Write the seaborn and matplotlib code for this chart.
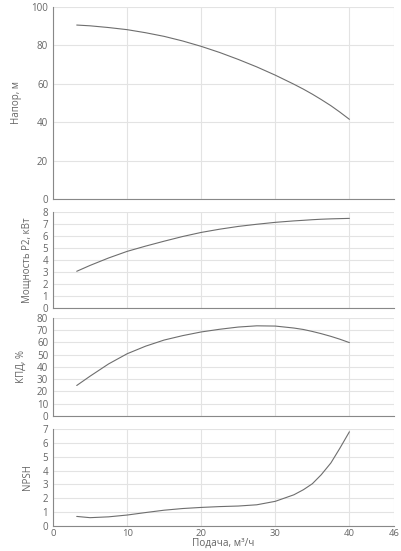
import pandas as pd
import seaborn as sns
import matplotlib.pyplot as plt

sns.set_style("white")
plt.rcParams["font.family"] = ["Open Sans", "DejaVu Sans"]

# flow, m3/h
flow = [3.2, 5, 7.5, 10, 12.5, 15, 17.5, 20, 22.5, 25, 27.5, 30, 32.5, 33.8, 35,
        36.2, 37.5, 38.7, 40]

head = [90.6, 90.2, 89.3, 88.2, 86.6, 84.7, 82.3, 79.5, 76.3, 72.7, 68.8, 64.5,
        59.8, 57.2, 54.6, 51.8, 48.6, 45.3, 41.5]
power = [3.06, 3.55, 4.17, 4.72, 5.16, 5.57, 5.96, 6.3, 6.57, 6.8, 6.98, 7.14,
         7.26, 7.31, 7.36, 7.4, 7.43, 7.45, 7.47]
eff = [24.9, 32.5, 42.5, 50.8, 57.0, 62.0, 65.6, 68.6, 70.8, 72.6, 73.6, 73.4,
       71.8, 70.6, 69.0, 67.2, 65.0, 62.7, 59.9]
npsh = [0.69, 0.6, 0.66, 0.79, 0.97, 1.14, 1.26, 1.34, 1.4, 1.44, 1.53, 1.78,
        2.25, 2.62, 3.05, 3.7, 4.55, 5.6, 6.8]

panels = [
    ("Напор, м", "head", 100, [0, 20, 40, 60, 80, 100], (0.6388, 0.3485)),
    ("Мощность P2, кВт", "power", 8, list(range(0, 9)), (0.4410, 0.1742)),
    ("КПД, %", "eff", 80, list(range(0, 81, 10)), (0.2450, 0.1779)),
    ("NPSH", "npsh", 7, list(range(0, 8)), (0.0454, 0.1760)),
]

df = pd.DataFrame({"flow": flow, "head": head, "power": power, "eff": eff, "npsh": npsh})

fig = plt.figure(figsize=(4.01, 5.51), dpi=100)
grid_c = "#e3e3e3"
spine_c = "#888888"
text_c = "#666666"

for i, (label, col, ymax, yt, (b, h)) in enumerate(panels):
    ax = fig.add_axes([0.1322, b, 0.850, h])
    sns.lineplot(data=df, x="flow", y=col, ax=ax, color="#6e6e6e", linewidth=0.8)
    ax.set_xlim(0, 46)
    ax.set_ylim(0, ymax)
    ax.set_xticks([0, 10, 20, 30, 40, 46])
    ax.set_yticks(yt)
    ax.grid(True, color=grid_c, linewidth=0.8)
    for s in ("top", "right"):
        ax.spines[s].set_visible(False)
    for s in ("left", "bottom"):
        ax.spines[s].set_color(spine_c)
        ax.spines[s].set_linewidth(0.8)
    ax.tick_params(axis="both", colors=spine_c, labelcolor=text_c, labelsize=7,
                   length=3, width=0.8, pad=0.5)
    ax.tick_params(axis="x", length=2, pad=0, labelsize=6.8)
    ax.set_ylabel(label, fontsize=7, color=text_c, labelpad=7)
    if i < 3:
        ax.set_xticklabels([])
        ax.set_xlabel("")
    else:
        ax.set_xlabel("Подача, м³/ч", fontsize=7.2, color=text_c)
        ax.xaxis.set_label_coords(0.5, -0.125)

fig.savefig("out.png", dpi=100)
